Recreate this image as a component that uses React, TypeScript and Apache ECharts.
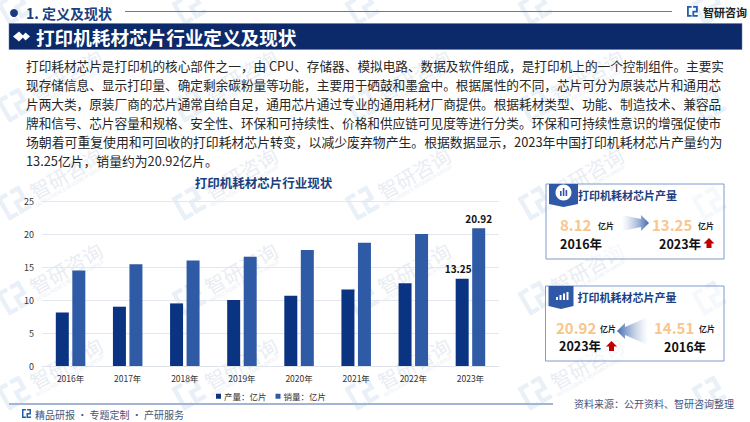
import React, { useEffect, useRef } from "react";
import * as echarts from "echarts";

const categories = ["2016年", "2017年", "2018年", "2019年", "2020年", "2021年", "2022年", "2023年"];
const production = [8.12, 9.0, 9.5, 10.0, 10.68, 11.6, 12.55, 13.25];
const sales = [14.51, 15.45, 16.0, 16.6, 17.6, 18.7, 20.04, 20.92];
const seriesNames = ["产量：亿片", "销量：亿片"];
const bodyLines = [
  "打印耗材芯片是打印机的核心部件之一，由 CPU、存储器、模拟电路、数据及软件组成，是打印机上的一个控制组件。主要实",
  "现存储信息、显示打印量、确定剩余碳粉量等功能，主要用于硒鼓和墨盒中。根据属性的不同，芯片可分为原装芯片和通用芯",
  "片两大类，原装厂商的芯片通常自给自足，通用芯片通过专业的通用耗材厂商提供。根据耗材类型、功能、制造技术、兼容品",
  "牌和信号、芯片容量和规格、安全性、环保和可持续性、价格和供应链可见度等进行分类。环保和可持续性意识的增强促使市",
  "场朝着可重复使用和可回收的打印耗材芯片转变，以减少废弃物产生。根据数据显示，2023年中国打印机耗材芯片产量约为",
  "13.25亿片，销量约为20.92亿片。",
];
const bodySizes = [12.65, 12.65, 12.65, 12.65, 12.85, 12.8];

const FONT = '"Noto Sans CJK SC", "Noto Sans", sans-serif';
const NAVY = "#0c2a69";
const TITLE = "#1c3f80";

const LOGO_D = "M0 0H13V5H5V25H13V30H0ZM17 0H30V18H20V25H30V30H15V13H25V5H17Z";
echarts.graphic.registerShape("zyLogo", echarts.graphic.extendPath(LOGO_D, {}) as any);

function txt(text: string, x: number, y: number, size: number, fill: string, weight: any = "normal", align = "left", z = 5) {
  return {
    type: "text",
    z,
    silent: true,
    style: { text, x, y, fill, fontSize: size, fontWeight: weight, fontFamily: FONT, align, verticalAlign: "middle" },
  };
}

function watermark(x: number, y: number, withText: boolean) {
  const c = "#e9edf3";
  const children: any[] = [{ type: "zyLogo", x: -13, y: -13, scaleX: 0.87, scaleY: 0.87, z: -10, style: { fill: "#e9f0f8" } }];
  if (withText) {
    children.push(txt("智研咨询", 60, 0, 20, c, "normal", "center", -10));
    children.push(txt("INTELLIGENCE RESEARCH GROUP", 57, 12.5, 5, c, "normal", "center", -10));
  }
  return { type: "group", x, y, rotation: (30 * Math.PI) / 180, silent: true, z: -10, children };
}

function upArrow(cx: number, top: number) {
  return {
    type: "polygon",
    z: 5,
    silent: true,
    shape: {
      points: [
        [cx, top],
        [cx + 5.5, top + 5.5],
        [cx + 2.5, top + 5.5],
        [cx + 2.5, top + 10],
        [cx - 2.5, top + 10],
        [cx - 2.5, top + 5.5],
        [cx - 5.5, top + 5.5],
      ],
    },
    style: { fill: "#c00000" },
  };
}

function flowArrow(x0: number, x1: number, cy: number, dir: 1 | -1, tailHalf: number) {
  const tip = dir === 1 ? x1 : x0;
  const tail = dir === 1 ? x0 : x1;
  const neck = tip - dir * 8;
  return {
    type: "polygon",
    z: 5,
    silent: true,
    shape: {
      points: [
        [tail, cy - tailHalf],
        [neck, cy - 4],
        [neck, cy - 8],
        [tip, cy],
        [neck, cy + 8],
        [neck, cy + 4],
        [tail, cy + tailHalf],
      ],
    },
    style: {
      fill: new echarts.graphic.LinearGradient(dir === 1 ? 0 : 1, 0, dir === 1 ? 1 : 0, 0, [
        { offset: 0, color: "rgba(255,255,255,0.5)" },
        { offset: 1, color: "#3f68ae" },
      ]),
    },
  };
}

function panel(x: number, y: number, w: number, h: number, badgeW: number, title: string) {
  const bx = x + 3;
  return [
    { type: "rect", z: 3, silent: true, shape: { x, y, width: w, height: h }, style: { fill: "rgba(255,255,255,0.55)", stroke: "#7f9bcf", lineWidth: 1 } },
    {
      type: "polygon",
      z: 4,
      silent: true,
      shape: {
        points: [
          [bx, y],
          [bx + badgeW, y],
          [bx + badgeW, y + 20],
          [bx + badgeW / 2, y + 23],
          [bx, y + 20],
        ],
      },
      style: { fill: "#2f58a6" },
    },
    txt(title, x + 32, y + 10.5, 11, TITLE, "bold"),
  ];
}

export default function App() {
  const ref = useRef<HTMLDivElement>(null);
  useEffect(() => {
    const chart = echarts.init(ref.current!, undefined, { renderer: "svg" });
    const wmCols = [14, 189, 362, 535, 709];
    const wmRows = [8, 105, 203, 298, 393];
    const marks: any[] = [];
    wmRows.forEach((r, ri) => wmCols.forEach((c, ci) => marks.push(watermark(c, r, ri > 0 && ci < wmCols.length - 1))));

    const graphic: any[] = [
      ...marks,
      { type: "circle", z: 5, silent: true, shape: { cx: 14, cy: 13, r: 4 }, style: { fill: "#1b3b7c" } },
      txt("1. 定义及现状", 26, 13, 14, TITLE, "bold"),
      { type: "line", z: 5, silent: true, shape: { x1: 125, y1: 11.5, x2: 672, y2: 11.5 }, style: { stroke: "#6379ae", lineWidth: 1 } },
      { type: "zyLogo", x: 687, y: 6, scaleX: 0.36, scaleY: 0.36, z: 5, silent: true, style: { fill: "#1d5fae" } },
      txt("智研咨询", 703, 11.5, 11, "#222222", "bold"),
      { type: "rect", z: 4, silent: true, shape: { x: 9, y: 23.5, width: 733, height: 26 }, style: { fill: NAVY, stroke: "#5d74a6", lineWidth: 0.5 } },
      { type: "polygon", z: 5, silent: true, shape: { points: [[13, 36.5], [19, 31.5], [24, 36.5], [19, 41.5]] }, style: { fill: "#ffffff" } },
      { type: "polygon", z: 5, silent: true, shape: { points: [[22, 36.5], [25.5, 32.5], [30, 36.5], [25.5, 40.5]] }, style: { fill: "#ffffff" } },
      txt("打印机耗材芯片行业定义及现状", 36, 36.5, 18.6, "#ffffff", "bold"),
      ...bodyLines.map((l, i) => txt(l, 26, 65.5 + i * 19.05, bodySizes[i], "#262626")),
      txt("打印机耗材芯片行业现状", 263.5, 182, 12.5, TITLE, "bold", "center"),

      ...panel(546, 184, 178, 75, 29, "打印机耗材芯片产量"),
      { type: "circle", z: 5, silent: true, shape: { cx: 563.5, cy: 192.5, r: 8 }, style: { fill: "#ffffff" } },
      { type: "rect", z: 6, silent: true, shape: { x: 560, y: 191, width: 1.6, height: 5 }, style: { fill: "#2f58a6" } },
      { type: "rect", z: 6, silent: true, shape: { x: 562.8, y: 188, width: 1.6, height: 8 }, style: { fill: "#2f58a6" } },
      { type: "rect", z: 6, silent: true, shape: { x: 565.6, y: 190, width: 1.6, height: 6 }, style: { fill: "#2f58a6" } },
      txt("8.12", 560, 224, 15, "#f8c68c", "bold"),
      txt("亿片", 598, 225, 8, "#222222", "bold"),
      txt("2016年", 560, 243, 12.5, "#111111", "bold"),
      flowArrow(622, 649, 223, 1, 8),
      txt("13.25", 652, 224, 15, "#f8c68c", "bold"),
      txt("亿片", 698, 225, 8, "#222222", "bold"),
      txt("2023年", 659, 243, 12.5, "#111111", "bold"),
      upArrow(709, 238),

      ...panel(545.5, 286, 178.5, 75, 25, "打印机耗材芯片产量"),
      { type: "rect", z: 6, silent: true, shape: { x: 556, y: 297, width: 2, height: 3 }, style: { fill: "#ffffff" } },
      { type: "rect", z: 6, silent: true, shape: { x: 559.5, y: 295, width: 2, height: 5 }, style: { fill: "#ffffff" } },
      { type: "rect", z: 6, silent: true, shape: { x: 563, y: 293.5, width: 2, height: 6.5 }, style: { fill: "#ffffff" } },
      { type: "rect", z: 6, silent: true, shape: { x: 566.5, y: 292, width: 2, height: 8 }, style: { fill: "#ffffff" } },
      txt("20.92", 556, 327, 15, "#f8c68c", "bold"),
      txt("亿片", 600, 328, 8, "#222222", "bold"),
      txt("2023年", 559, 345, 12.5, "#111111", "bold"),
      upArrow(611.5, 341),
      flowArrow(617, 648, 331, -1, 14),
      txt("14.51", 654, 327, 15, "#f8c68c", "bold"),
      txt("亿片", 699, 328, 8, "#222222", "bold"),
      txt("2016年", 664, 346, 12.5, "#111111", "bold"),

      { type: "line", z: 5, silent: true, shape: { x1: 9, y1: 404, x2: 553, y2: 404 }, style: { stroke: "#a5b4d4", lineWidth: 2 } },
      { type: "zyLogo", x: 22, y: 409, scaleX: 0.3, scaleY: 0.3, z: 5, silent: true, style: { fill: "#1d5fae" } },
      txt("精品研报 · 专题定制 · 产研服务", 35, 414, 10, "#45557c"),
      txt("资料来源：公开资料、智研咨询整理", 574, 403, 10, "#45557c"),
    ];

    chart.setOption({
      animation: false,
      backgroundColor: "#ffffff",
      textStyle: { fontFamily: FONT },
      grid: { left: 42, right: 251, top: 201.3, bottom: 56 },
      legend: {
        data: seriesNames,
        left: 211,
        top: 387,
        itemWidth: 5,
        itemHeight: 5,
        itemGap: 9,
        icon: "rect",
        textStyle: { fontSize: 8.5, color: "#333333", fontFamily: FONT, padding: [0, 0, 0, -2] },
      },
      xAxis: {
        type: "category",
        data: categories,
        axisLine: { lineStyle: { color: "#dfe3ea" } },
        axisTick: { show: false },
        axisLabel: { fontSize: 8.5, color: "#333333", margin: 8 },
      },
      yAxis: {
        type: "value",
        min: 0,
        max: 25,
        interval: 5,
        axisLine: { show: false },
        axisTick: { show: false },
        splitLine: { lineStyle: { color: "#e3e6ec" } },
        axisLabel: { fontSize: 9, color: "#333333", margin: 8 },
      },
      series: [
        {
          name: seriesNames[0],
          type: "bar",
          data: production.map((v, i) =>
            i === production.length - 1
              ? { value: v, label: { show: true, position: "top", offset: [-4, 0], fontSize: 10, fontWeight: "bold", color: "#111111" } }
              : v
          ),
          barWidth: 13,
          barGap: "27%",
          itemStyle: { color: "#0a3382" },
        },
        {
          name: seriesNames[1],
          type: "bar",
          data: sales.map((v, i) =>
            i === sales.length - 1
              ? { value: v, label: { show: true, position: "top", fontSize: 10, fontWeight: "bold", color: "#111111" } }
              : v
          ),
          barWidth: 13,
          itemStyle: { color: "#2e5aa6" },
        },
      ],
      graphic: { elements: graphic },
    });
    return () => chart.dispose();
  }, []);
  return <div ref={ref} style={{ position: "absolute", left: 0, top: 0, width: 750, height: 422 }} />;
}
